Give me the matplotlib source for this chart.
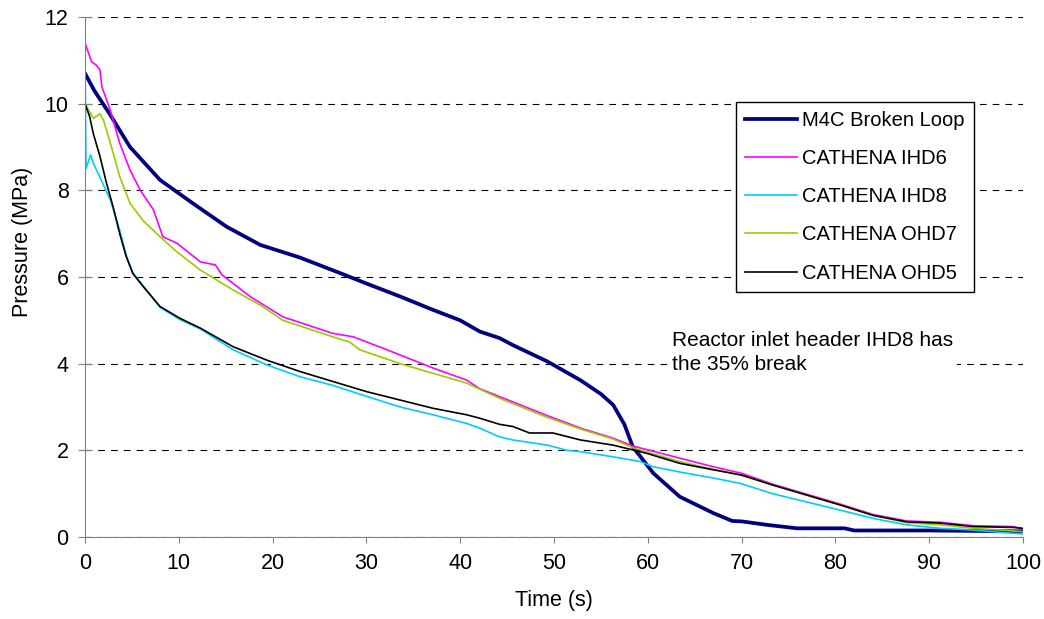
import matplotlib.pyplot as plt

# Data (time in s, pressure in MPa)
m4c_t = [0, 1, 2.7, 4.8, 8, 11.5, 15.1, 18.7, 22.9, 27.2, 30, 33.6, 37, 40, 42.1, 44.2,
         45.6, 49.3, 52.8, 55, 56.3, 57.5, 58.4, 60.6, 63.4, 67, 69, 70, 72.7, 75.9, 81,
         82, 90, 100]
m4c_p = [10.7, 10.3, 9.74, 9.0, 8.24, 7.7, 7.16, 6.74, 6.45, 6.09, 5.85, 5.55, 5.25, 5.0,
         4.74, 4.59, 4.43, 4.05, 3.62, 3.3, 3.05, 2.6, 2.08, 1.47, 0.93, 0.55, 0.37, 0.36,
         0.28, 0.2, 0.2, 0.15, 0.15, 0.13]

ihd6_t = [0, 0.7, 1.2, 1.6, 1.8, 2.7, 3.7, 4.8, 5.9, 7.3, 8.3, 9.8, 12.3, 13.9, 14.6, 17.6,
          21.1, 26.4, 28.6, 32.2, 37.1, 40.7, 42.1, 44.2, 49.3, 53, 56.3, 58.4, 63.4, 67,
          70, 73.3, 76.9, 80.5, 84, 87.6, 91.2, 94.7, 99, 100]
ihd6_p = [11.4, 10.97, 10.89, 10.78, 10.39, 9.85, 9.09, 8.47, 8.0, 7.55, 6.93, 6.78, 6.35,
          6.28, 6.05, 5.55, 5.08, 4.7, 4.62, 4.32, 3.9, 3.62, 3.42, 3.24, 2.8, 2.5, 2.28,
          2.1, 1.82, 1.62, 1.47, 1.22, 0.99, 0.76, 0.52, 0.37, 0.34, 0.26, 0.24, 0.18]

ihd8_t = [0, 0.1, 0.6, 0.9, 1.6, 2.7, 3.7, 4.4, 5.1, 6.2, 8.0, 10.1, 12.3, 15.8, 19.4, 22.9,
          26.4, 30.1, 33.6, 37.1, 40.7, 42.1, 44.2, 45.6, 49.3, 51.4, 52.8, 56.3, 59.2,
          60.6, 63.4, 67, 69.8, 73.3, 76.9, 80.5, 84, 87.6, 91.2, 94.7, 98, 100]
ihd8_p = [11.3, 8.5, 8.82, 8.62, 8.3, 7.78, 7.08, 6.5, 6.1, 5.8, 5.3, 5.02, 4.8, 4.32, 3.97,
          3.7, 3.5, 3.24, 3.0, 2.82, 2.62, 2.51, 2.31, 2.24, 2.12, 2.0, 1.97, 1.85, 1.74,
          1.62, 1.5, 1.36, 1.24, 1.0, 0.81, 0.62, 0.43, 0.28, 0.2, 0.16, 0.1, 0.07]

ohd7_t = [0, 0.9, 1.6, 2.0, 2.7, 3.7, 4.8, 6.2, 8.0, 9.8, 12.3, 15.8, 18.7, 21.1, 26.4, 28.2,
          29.3, 33.6, 40.7, 44.2, 49.3, 53, 56.3, 58.4, 63.4, 67, 70, 73.3, 76.9, 80.5, 84,
          87.6, 91.2, 94.7, 99, 100]
ohd7_p = [10.0, 9.66, 9.77, 9.6, 9.09, 8.32, 7.7, 7.3, 6.93, 6.58, 6.16, 5.7, 5.35, 5.0,
          4.62, 4.5, 4.32, 4.0, 3.55, 3.2, 2.76, 2.48, 2.26, 2.06, 1.74, 1.56, 1.42, 1.2,
          0.97, 0.74, 0.5, 0.33, 0.28, 0.2, 0.14, 0.12]

ohd5_t = [0, 0.5, 0.9, 1.6, 2.3, 3.0, 3.7, 4.4, 5.1, 6.2, 8.0, 10.1, 12.3, 15.8, 19.4, 22.9,
          26.4, 30.1, 33.6, 37.1, 40.7, 42.1, 44.2, 45.6, 47.4, 49.9, 52.8, 56.3, 59.9,
          63.4, 67, 70, 73.3, 76.9, 80.5, 84, 87.6, 91.2, 94.7, 99, 100]
ohd5_p = [10.0, 9.7, 9.3, 8.78, 8.16, 7.62, 7.0, 6.47, 6.08, 5.78, 5.32, 5.05, 4.82, 4.39,
          4.08, 3.82, 3.59, 3.35, 3.16, 2.97, 2.82, 2.74, 2.6, 2.55, 2.4, 2.4, 2.24, 2.12,
          1.93, 1.7, 1.55, 1.43, 1.2, 0.97, 0.74, 0.5, 0.35, 0.32, 0.24, 0.22, 0.2]

plt.rcParams['font.family'] = ['Liberation Sans', 'DejaVu Sans']

fig = plt.figure(figsize=(10.44, 6.19), dpi=100)
ax = fig.add_axes([0.0814, 0.1325, 0.8985, 0.84])

series = [
    (m4c_t, m4c_p, 'M4C Broken Loop', '#000080', 2.7),
    (ihd6_t, ihd6_p, 'CATHENA IHD6', '#FF00FF', 1.2),
    (ihd8_t, ihd8_p, 'CATHENA IHD8', '#00CCFF', 1.2),
    (ohd7_t, ohd7_p, 'CATHENA OHD7', '#99CC00', 1.2),
    (ohd5_t, ohd5_p, 'CATHENA OHD5', '#000000', 1.2),
]
for t, p, label, color, lw in series:
    ax.plot(t, p, color=color, lw=lw, label=label)

ax.set_xlim(0, 100)
ax.set_ylim(0, 12)
ax.set_xticks(range(0, 101, 10))
ax.set_yticks(range(0, 13, 2))
ax.grid(axis='y', color='black', linestyle=(0, (6, 5.5)), linewidth=0.8)
ax.set_axisbelow(True)

for side in ['top', 'right']:
    ax.spines[side].set_visible(False)
for side in ['left', 'bottom']:
    ax.spines[side].set_color('#808080')
ax.tick_params(axis='x', direction='out', length=4.3, color='#808080', labelsize=15.5, pad=7)
ax.tick_params(axis='y', direction='inout', length=9.4, color='#808080', labelsize=15.5, pad=7)

ax.set_xlabel('Time (s)', fontsize=15.5)
ax.set_ylabel('Pressure (MPa)', fontsize=15.5)
ax.xaxis.set_label_coords(0.5, -0.123)
ax.xaxis.label.set_va('center')
ax.yaxis.set_label_coords(-0.067, 0.568)
ax.yaxis.label.set_va('center')

# text box with white fill hides the gridline behind it
ax.text(62.6, 4.25, 'Reactor inlet header IHD8 has\nthe 35% break', fontsize=15,
        va='center', ha='left', linespacing=1.32,
        bbox=dict(facecolor='white', edgecolor='none', pad=3))

leg = ax.legend(loc='upper left', bbox_to_anchor=(0.694, 0.8365), borderaxespad=0,
                fontsize=14.5, handlelength=2.6, handletextpad=0.25, labelspacing=0.95,
                borderpad=0.45, fancybox=False, framealpha=1, edgecolor='black')
leg.get_frame().set_linewidth(1.0)

fig.savefig('out.png', dpi=100)
